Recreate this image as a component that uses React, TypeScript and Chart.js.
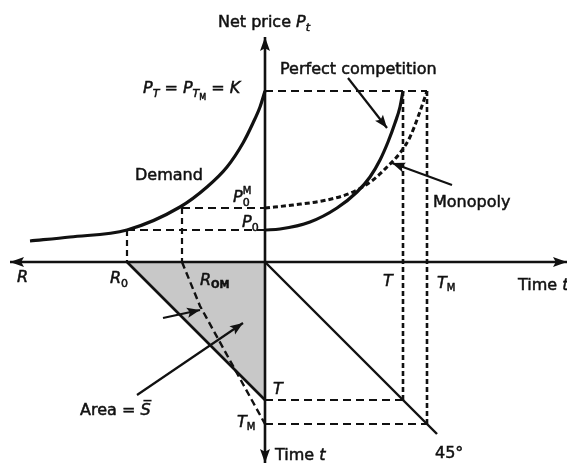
import { useEffect, useRef } from "react";
import { Chart, registerables } from "chart.js";

Chart.register(...registerables);

// Four-quadrant Hotelling diagram. One unit is used on every half-axis:
// right = calendar time, left = reserves R, up = net price, down = time t.
const T = 138; // exhaustion date, perfect competition
const T_M = 162; // exhaustion date, monopoly
const R_0 = -138; // initial reserves (competitive path)
const R_0M = -83; // initial extraction point, monopoly
const P_K = 171; // backstop price K
const P_0 = 32; // initial competitive price
const P_0M = 54; // initial monopoly price

// Demand curve (reserves on the left axis, price up)
const demandR = [-235, -195, -138, -85, -58, -38, -22, -12, -5, 0];
const demandP = [21, 25, 32, 55, 75, 95, 119, 139, 155, 171];

// Price paths over time
const compTime = [0, 15, 45, 72, 92, 105, 115, 123, 130, 135, 138];
const compPrice = [32, 33, 40, 54, 70, 85, 102, 120, 139, 155, 171];
const monoTime = [0, 28, 62, 88, 108, 122, 135, 145, 153, 160, 162];
const monoPrice = [54, 57, 62, 70, 82, 95, 109, 125, 145, 165, 171];

// Cumulative extraction paths (reserves vs time t, lower left)
const compPathR = [-138, 0];
const compPathT = [0, -138];
const monoPathR = [-83, -65, 0];
const monoPathT = [0, -44, -162];

// 45° mapping line (lower right)
const diagX = [0, 172];
const diagY = [0, -172];

type Pt = { x: number; y: number };
const pts = (xs: number[], ys: number[]): Pt[] => xs.map((x, i) => ({ x, y: ys[i] }));

const INK = "#111";

const line = (data: Pt[], width: number, dash: number[] = [], extra: any = {}) => ({
  data,
  showLine: true,
  borderColor: INK,
  borderWidth: width,
  borderDash: dash,
  pointRadius: 0,
  pointHoverRadius: 0,
  fill: false,
  clip: false,
  tension: 0,
  ...extra,
});

const curve = { cubicInterpolationMode: "monotone" };

// Annotation arrows [fromX, fromY, toX, toY]
const pointers: number[][] = [
  [83, 184, 122, 134],
  [187, 77, 127, 99],
  [-128, -133, -22, -61],
  [-102, -56, -65, -48],
];

type Run = {
  t: string;
  it?: boolean;
  s?: number;
  dy?: number;
  b?: boolean;
  stay?: boolean;
  bar?: boolean;
};
type Label = { x: number; y: number; runs: Run[] };

const labels: Label[] = [
  {
    x: -47,
    y: 235,
    runs: [{ t: "Net price " }, { t: "P", it: true }, { t: "t", it: true, s: 11, dy: 4 }],
  },
  {
    x: -122,
    y: 169,
    runs: [
      { t: "P", it: true },
      { t: "T", it: true, s: 11, dy: 4 },
      { t: " = " },
      { t: "P", it: true },
      { t: "T", it: true, s: 11, dy: 4 },
      { t: "M", s: 8, dy: 7 },
      { t: " = " },
      { t: "K", it: true },
    ],
  },
  { x: -130, y: 82, runs: [{ t: "Demand" }] },
  {
    x: -32,
    y: 60,
    runs: [
      { t: "P", it: true },
      { t: "M", s: 10, dy: -8, stay: true },
      { t: "0", s: 11, dy: 4 },
    ],
  },
  { x: -23, y: 35, runs: [{ t: "P", it: true }, { t: "0", s: 11, dy: 4 }] },
  { x: 15, y: 188, runs: [{ t: "Perfect competition" }] },
  { x: 168, y: 55, runs: [{ t: "Monopoly" }] },
  { x: -248, y: -20, runs: [{ t: "R", it: true }] },
  { x: -155, y: -21, runs: [{ t: "R", it: true }, { t: "0", s: 11, dy: 4 }] },
  { x: -65, y: -23, runs: [{ t: "R", it: true }, { t: "OM", s: 10, dy: 3, b: true }] },
  { x: 118, y: -24, runs: [{ t: "T", it: true }] },
  { x: 172, y: -26, runs: [{ t: "T", it: true }, { t: "M", s: 10, dy: 3 }] },
  { x: 253, y: -28, runs: [{ t: "Time " }, { t: "t", it: true }] },
  { x: 8, y: -132, runs: [{ t: "T", it: true }] },
  { x: -28, y: -165, runs: [{ t: "T", it: true }, { t: "M", s: 10, dy: 3 }] },
  { x: 10, y: -198, runs: [{ t: "Time " }, { t: "t", it: true }] },
  { x: 170, y: -196, runs: [{ t: "45°" }] },
  { x: -185, y: -153, runs: [{ t: "Area = " }, { t: "S", it: true, bar: true }] },
];

function head(ctx: CanvasRenderingContext2D, x1: number, y1: number, x2: number, y2: number, len: number, half: number) {
  const a = Math.atan2(y2 - y1, x2 - x1);
  ctx.save();
  ctx.translate(x2, y2);
  ctx.rotate(a);
  ctx.beginPath();
  ctx.moveTo(0, 0);
  ctx.lineTo(-len, -half);
  ctx.lineTo(-len * 0.8, 0);
  ctx.lineTo(-len, half);
  ctx.closePath();
  ctx.fill();
  ctx.restore();
}

const decor = {
  id: "decor",
  afterDatasetsDraw(chart: any) {
    const { ctx, scales } = chart;
    const X = (v: number) => scales.x.getPixelForValue(v);
    const Y = (v: number) => scales.y.getPixelForValue(v);
    ctx.save();
    ctx.fillStyle = INK;
    ctx.strokeStyle = INK;

    // axis arrowheads
    head(ctx, X(0), Y(0), X(-255), Y(0), 14, 5);
    head(ctx, X(0), Y(0), X(302), Y(0), 14, 5);
    head(ctx, X(0), Y(0), X(0), Y(225), 14, 5);
    head(ctx, X(0), Y(0), X(0), Y(-201), 14, 5);

    // pointer arrows
    ctx.lineWidth = 2.2;
    for (const [a, b, c, d] of pointers) {
      ctx.beginPath();
      ctx.moveTo(X(a), Y(b));
      ctx.lineTo(X(c), Y(d));
      ctx.stroke();
      head(ctx, X(a), Y(b), X(c), Y(d), 13, 5);
    }

    // text
    ctx.textBaseline = "alphabetic";
    ctx.lineWidth = 0.5;
    for (const l of labels) {
      let cx = X(l.x);
      const by = Y(l.y);
      for (const r of l.runs) {
        const size = r.s ?? 16;
        ctx.font = `${r.it ? "italic " : ""}${r.b ? "bold " : ""}${size}px "DejaVu Sans"`;
        const yy = by + (r.dy ?? 0);
        ctx.fillText(r.t, cx, yy);
        ctx.strokeText(r.t, cx, yy);
        const w = ctx.measureText(r.t).width;
        if (r.bar) {
          ctx.save();
          ctx.lineWidth = 1.6;
          ctx.beginPath();
          ctx.moveTo(cx + 3, yy - size * 0.9);
          ctx.lineTo(cx + w + 1, yy - size * 0.9);
          ctx.stroke();
          ctx.restore();
        }
        if (!r.stay) cx += w;
      }
    }
    ctx.restore();
  },
};

export default function App() {
  const ref = useRef<HTMLCanvasElement | null>(null);

  useEffect(() => {
    document.body.style.margin = "0";
    const canvas = ref.current;
    if (!canvas) return;

    // Chart.js paints the last dataset first, so the shaded area goes last.
    const datasets: any[] = [
      line(pts(monoPathR, monoPathT), 2.4, [7, 4]),
      // axes
      line(pts([-255, 302], [0, 0]), 2.6),
      line(pts([0, 0], [225, -201]), 2.6),
      // demand & price paths
      line(pts(demandR, demandP), 3.2, [], curve),
      line(pts(compTime, compPrice), 3.2, [], curve),
      line(pts(monoTime, monoPrice), 3, [5, 3], curve),
      // 45° line
      line(pts(diagX, diagY), 2.4),
      // guide lines
      line(pts([0, T_M], [P_K, P_K]), 2.2, [8, 5]),
      line(pts([T, T], [P_K, -T]), 2.6, [5, 3]),
      line(pts([T_M, T_M], [P_K, -T_M]), 2.6, [5, 3]),
      line(pts([0, T], [-T, -T]), 2.2, [8, 5]),
      line(pts([0, T_M], [-T_M, -T_M]), 2.2, [8, 5]),
      line(pts([R_0, 0], [P_0, P_0]), 2.2, [8, 5]),
      line(pts([R_0, R_0], [P_0, 0]), 2.2, [6, 4]),
      line(pts([R_0M, 0], [P_0M, P_0M]), 2.2, [8, 5]),
      line(pts([R_0M, R_0M], [P_0M, 0]), 2.2, [6, 4]),
      // competitive extraction path with the shaded stock below it
      line(pts(compPathR, compPathT), 2.6, [], { fill: "origin", backgroundColor: "#c8c8c8" }),
    ];

    const chart = new Chart(canvas, {
      type: "scatter",
      data: { datasets },
      options: {
        animation: false,
        responsive: false,
        events: [],
        layout: { padding: 0 },
        plugins: { legend: { display: false }, tooltip: { enabled: false } },
        scales: {
          x: { type: "linear", min: -265, max: 302, display: false },
          y: { type: "linear", min: -206, max: 262, display: false },
        },
      },
      plugins: [decor],
    });
    return () => chart.destroy();
  }, []);

  return (
    <div style={{ width: 567, height: 468, background: "#fff" }}>
      <canvas ref={ref} width={567} height={468} style={{ display: "block" }} />
    </div>
  );
}
